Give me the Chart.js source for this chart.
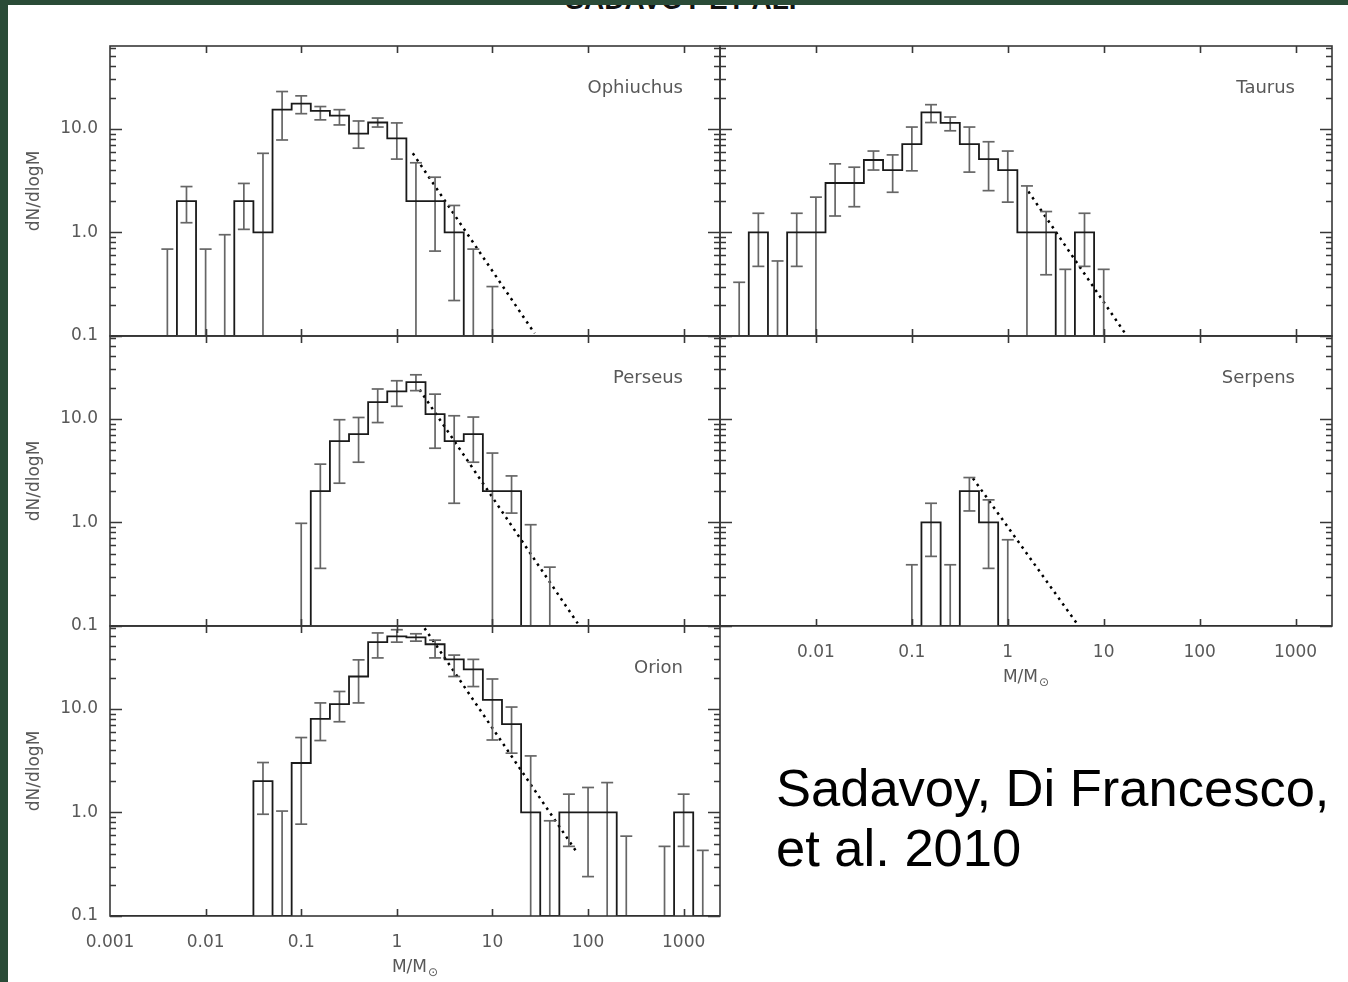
<!DOCTYPE html>
<html>
<head>
<meta charset="utf-8">
<title>Core mass functions</title>
<script src="https://cdn.jsdelivr.net/npm/chart.js@4.4.0/dist/chart.umd.min.js"></script>
<style>
  html, body { margin: 0; padding: 0; }
  body { width: 1348px; height: 982px; position: relative; overflow: hidden; background: #fff; }
  .edge-top { position: absolute; left: 0; top: 0; width: 1348px; height: 5px; background: #2a4b37; z-index: 5; }
  .edge-left { position: absolute; left: 0; top: 0; width: 8px; height: 982px; background: #2a4b37; z-index: 5; }
  .heading { position: absolute; left: 0; top: -16px; width: 1362px; text-align: center;
             font: bold 28px "Liberation Sans", Arial, sans-serif; color: #111; }
  canvas { position: absolute; }
  .credit { position: absolute; left: 776px; top: 758px; font: 52.5px "Liberation Sans", Arial, sans-serif;
            line-height: 60px; color: #000; }
</style>
</head>
<body>
<div class="edge-top"></div>
<div class="edge-left"></div>
<div class="heading">SADAVOY ET AL.</div>

<canvas id="oph" width="704" height="300" style="left:20px;top:40px"></canvas>
<canvas id="tau" width="620" height="300" style="left:716px;top:40px"></canvas>
<canvas id="per" width="704" height="300" style="left:20px;top:330px"></canvas>
<canvas id="ser" width="620" height="356" style="left:716px;top:330px"></canvas>
<canvas id="ori" width="704" height="358" style="left:20px;top:620px"></canvas>

<div class="credit">Sadavoy, Di Francesco,<br>et al. 2010</div>

<script>
// ---- axes ----
const X_MIN = 0.001, X_MAX = 2400;
const Y_MIN = 0.1, Y_MAX = 63;
const X_TICKS = [0.001, 0.01, 0.1, 1, 10, 100, 1000];
const X_LABELS = ['0.001', '0.01', '0.1', '1', '10', '100', '1000'];
const Y_TICKS = [0.1, 1, 10];
const Y_LABELS = ['0.1', '1.0', '10.0'];
const Y_MINOR = [0.2, 0.3, 0.4, 0.5, 0.6, 0.7, 0.8, 0.9, 2, 3, 4, 5, 6, 7, 8, 9, 20, 30, 40, 50, 60];

// bin centres, log10(M/Msun), 0.2 dex wide
const LOG_M = [-3.0, -2.8, -2.6, -2.4, -2.2, -2.0, -1.8, -1.6, -1.4, -1.2, -1.0, -0.8, -0.6, -0.4, -0.2, 0.0,
               0.2, 0.4, 0.6, 0.8, 1.0, 1.2, 1.4, 1.6, 1.8, 2.0, 2.2, 2.4, 2.6, 2.8, 3.0, 3.2, 3.4];

// dN/dlogM per bin; error lo/hi (lo 0 = bar runs to the axis, null = no bar)
const n = null;
const OPH_N  = [0, 0, 0, 0, 2, 0, 0, 2, 1, 15.3, 17.5, 14.9, 13.4, 9.0, 11.5, 8.1, 2, 2, 1, 0, 0, 0, 0, 0, 0, 0, 0, 0, 0, 0, 0, 0, 0];
const OPH_LO = [n, n, n, 0, 1.24, 0, 0, 1.07, 0, 7.8, 14.0, 12.2, 10.9, 6.5, 10.4, 5.1, 0, 0.66, 0.22, 0, 0, n, n, n, n, n, n, n, n, n, n, n, n];
const OPH_HI = [n, n, n, 0.69, 2.77, 0.69, 0.95, 2.97, 5.8, 22.9, 20.8, 16.4, 15.3, 11.9, 12.7, 11.4, 4.7, 3.41, 1.82, 0.69, 0.30, n, n, n, n, n, n, n, n, n, n, n, n];

const TAU_N  = [0, 0, 1, 0, 1, 1, 3.0, 3.0, 5.0, 4.0, 7.1, 14.4, 11.4, 7.1, 5.1, 4.0, 1, 1, 0, 1, 0, 0, 0, 0, 0, 0, 0, 0, 0, 0, 0, 0, 0];
const TAU_LO = [n, 0, 0.47, 0, 0.47, 0, 1.44, 1.77, 4.0, 2.44, 3.93, 11.5, 9.57, 3.82, 2.53, 1.96, 0, 0.39, 0, 0.47, 0, n, n, n, n, n, n, n, n, n, n, n, n];
const TAU_HI = [n, 0.33, 1.53, 0.53, 1.53, 2.19, 4.59, 4.26, 6.1, 5.6, 10.4, 17.1, 13.0, 10.4, 7.5, 6.1, 2.81, 1.59, 0.44, 1.53, 0.44, n, n, n, n, n, n, n, n, n, n, n, n];

const PER_N  = [0, 0, 0, 0, 0, 0, 0, 0, 0, 0, 0, 2.0, 6.1, 7.1, 14.5, 18.4, 22.6, 11.1, 6.1, 7.1, 2.0, 2.0, 0, 0, 0, 0, 0, 0, 0, 0, 0, 0, 0];
const PER_LO = [n, n, n, n, n, n, n, n, n, n, 0, 0.36, 2.39, 3.81, 9.2, 13.2, 18.7, 5.2, 1.53, 3.81, 0, 1.23, 0, 0, n, n, n, n, n, n, n, n, n];
const PER_HI = [n, n, n, n, n, n, n, n, n, n, 0.98, 3.65, 9.8, 10.3, 19.4, 23.3, 26.6, 17.3, 10.7, 10.4, 4.67, 2.81, 0.95, 0.37, n, n, n, n, n, n, n, n, n];

const SER_N  = [0, 0, 0, 0, 0, 0, 0, 0, 0, 0, 0, 1, 0, 2, 1, 0, 0, 0, 0, 0, 0, 0, 0, 0, 0, 0, 0, 0, 0, 0, 0, 0, 0];
const SER_LO = [n, n, n, n, n, n, n, n, n, n, 0, 0.47, 0, 1.29, 0.36, 0, n, n, n, n, n, n, n, n, n, n, n, n, n, n, n, n, n];
const SER_HI = [n, n, n, n, n, n, n, n, n, n, 0.39, 1.53, 0.39, 2.71, 1.65, 0.68, n, n, n, n, n, n, n, n, n, n, n, n, n, n, n, n, n];

const ORI_N  = [0, 0, 0, 0, 0, 0, 0, 0, 2.0, 0, 3.0, 8.0, 11.1, 20.5, 44, 50, 49, 42, 30, 24, 12.2, 7.1, 1.0, 0, 1, 1, 1, 0, 0, 0, 1, 0, 0];
const ORI_LO = [n, n, n, n, n, n, n, n, 0.96, 0, 0.77, 4.94, 7.5, 11.4, 31, 44, 45, 31, 20.5, 16.4, 5.0, 3.73, 0, 0, 0.47, 0.24, 0, 0, n, 0, 0.47, 0, n];
const ORI_HI = [n, n, n, n, n, n, n, n, 3.03, 1.03, 5.28, 11.4, 14.7, 29.7, 54, 58, 53, 46, 33, 30, 19.4, 10.4, 3.51, 0.83, 1.50, 1.74, 1.94, 0.59, n, 0.47, 1.50, 0.43, n];

// Salpeter-like power-law fits (end points, M/Msun and dN/dlogM)
const OPH_FIT_M = [1.47, 27.6], OPH_FIT_N = [5.8, 0.106];
const TAU_FIT_M = [1.64, 17.2], TAU_FIT_N = [2.48, 0.102];
const PER_FIT_M = [1.73, 78],   PER_FIT_N = [19.1, 0.106];
const SER_FIT_M = [0.433, 5.4], SER_FIT_N = [2.67, 0.102];
const ORI_FIT_M = [1.95, 78],   ORI_FIT_N = [60, 0.40];

// ---- styling ----
const FONT = '"DejaVu Sans", sans-serif';
const TEXT = '#585858';
const FRAME = '#383838';
const HIST = '#1a1a1a';
const ERR = '#666';

// frame, inward ticks, region name and mass axis title
const panelDecor = {
  id: 'panelDecor',
  afterDatasetsDraw(chart, args, opts) {
    const { ctx, chartArea: a } = chart;
    const xs = chart.scales.x, ys = chart.scales.y;
    ctx.save();
    ctx.strokeStyle = FRAME;
    ctx.lineWidth = 1.6;
    ctx.strokeRect(a.left, a.top, a.right - a.left, a.bottom - a.top);
    ctx.beginPath();
    X_TICKS.forEach(v => {
      const px = Math.round(xs.getPixelForValue(v)) + 0.5;
      if (px < a.left + 2 || px > a.right - 2) return;
      ctx.moveTo(px, a.top); ctx.lineTo(px, a.top + 7);
      ctx.moveTo(px, a.bottom); ctx.lineTo(px, a.bottom - 7);
    });
    const yTick = (v, len) => {
      const py = Math.round(ys.getPixelForValue(v)) + 0.5;
      ctx.moveTo(a.left, py); ctx.lineTo(a.left + len, py);
      ctx.moveTo(a.right, py); ctx.lineTo(a.right - len, py);
    };
    Y_TICKS.forEach(v => yTick(v, 12));
    Y_MINOR.forEach(v => yTick(v, 6));
    ctx.stroke();

    ctx.fillStyle = TEXT;
    ctx.font = '18px ' + FONT;
    ctx.textAlign = 'right';
    ctx.textBaseline = 'alphabetic';
    ctx.fillText(opts.name, a.right - 37, a.top + 47);

    if (opts.xTitle) {
      ctx.font = '17px ' + FONT;
      const main = 'M/M';
      const w1 = ctx.measureText(main).width;
      ctx.font = '12px ' + FONT;
      const w2 = ctx.measureText('\u2299').width;
      const x0 = (a.left + a.right) / 2 - (w1 + w2 + 1) / 2;
      ctx.textAlign = 'left';
      ctx.font = '17px ' + FONT;
      ctx.fillText(main, x0, a.bottom + 56);
      ctx.font = '12px ' + FONT;
      ctx.fillText('\u2299', x0 + w1 + 1, a.bottom + 60);
    }
    ctx.restore();
  }
};

function histPoints(counts) {
  return LOG_M.map((c, i) => ({ x: Math.pow(10, c), y: counts[i] > 0 ? counts[i] : Y_MIN }));
}

// each bar is a gap, its lower end and its upper end; the list also ends on a gap
function errorPoints(lo, hi) {
  const pts = [];
  LOG_M.forEach((c, i) => {
    if (hi[i] == null) return;
    const m = Math.pow(10, c);
    const low = lo[i] > 0 ? lo[i] : Y_MIN;
    pts.push({ x: m, y: null });
    pts.push({ x: m, y: low, cap: lo[i] > 0 });
    pts.push({ x: m, y: hi[i], cap: true });
  });
  if (pts.length) pts.push({ x: pts[pts.length - 1].x, y: null });
  return pts;
}

function fitPoints(ms, ns) {
  return ms.map((m, i) => ({ x: m, y: ns[i] }));
}

function makePanel(id, cfg) {
  const tickFont = { family: FONT, size: 17 };
  return new Chart(document.getElementById(id), {
    type: 'line',
    data: {
      datasets: [
        {
          data: histPoints(cfg.counts),
          stepped: 'middle',
          borderColor: HIST,
          borderWidth: 1.8,
          pointRadius: 0,
          fill: false
        },
        {
          data: errorPoints(cfg.lo, cfg.hi),
          borderColor: ERR,
          borderWidth: 1.7,
          spanGaps: false,
          pointStyle: 'line',
          pointRadius: ctx => (ctx.raw && ctx.raw.cap ? 6 : 0),
          pointBorderColor: ERR,
          pointBorderWidth: 1.7,
          fill: false
        },
        {
          data: fitPoints(cfg.fitM, cfg.fitN),
          borderColor: '#000',
          borderWidth: 2.5,
          borderDash: [2.5, 4.5],
          pointRadius: 0,
          fill: false
        }
      ]
    },
    options: {
      responsive: false,
      animation: false,
      events: [],
      layout: { padding: cfg.padding },
      plugins: {
        legend: { display: false },
        tooltip: { enabled: false },
        panelDecor: { name: cfg.name, xTitle: cfg.showX }
      },
      scales: {
        x: {
          type: 'logarithmic',
          min: X_MIN,
          max: X_MAX,
          display: cfg.showX,
          afterBuildTicks: s => { s.ticks = X_TICKS.map(v => ({ value: v })); },
          afterFit: s => {
            if (cfg.showX) s.height = cfg.xHeight;
            s.paddingLeft = 0;
            s.paddingRight = 0;
          },
          grid: { display: false, drawTicks: false },
          border: { display: false },
          ticks: {
            autoSkip: false,
            maxRotation: 0,
            padding: 16,
            color: TEXT,
            font: tickFont,
            callback: (v, i) => (cfg.skipFirstX && i === 0 ? '' : X_LABELS[i])
          }
        },
        y: {
          type: 'logarithmic',
          min: Y_MIN,
          max: Y_MAX,
          display: cfg.showY,
          afterBuildTicks: s => { s.ticks = Y_TICKS.map(v => ({ value: v })); },
          afterFit: s => {
            if (cfg.showY) s.width = 90;
            s.paddingTop = 0;
            s.paddingBottom = 0;
          },
          grid: { display: false, drawTicks: false },
          border: { display: false },
          ticks: {
            autoSkip: false,
            padding: 12,
            color: TEXT,
            font: tickFont,
            callback: (v, i) => Y_LABELS[i]
          },
          title: {
            display: true,
            text: 'dN/dlogM',
            color: TEXT,
            font: { family: FONT, size: 17 },
            padding: { top: 4, bottom: 0 }
          }
        }
      }
    },
    plugins: [panelDecor]
  });
}

makePanel('oph', {
  name: 'Ophiuchus', counts: OPH_N, lo: OPH_LO, hi: OPH_HI, fitM: OPH_FIT_M, fitN: OPH_FIT_N,
  showX: false, showY: true, padding: { top: 6, right: 4, bottom: 4, left: 0 }
});
makePanel('tau', {
  name: 'Taurus', counts: TAU_N, lo: TAU_LO, hi: TAU_HI, fitM: TAU_FIT_M, fitN: TAU_FIT_N,
  showX: false, showY: false, padding: { top: 6, right: 4, bottom: 4, left: 4 }
});
makePanel('per', {
  name: 'Perseus', counts: PER_N, lo: PER_LO, hi: PER_HI, fitM: PER_FIT_M, fitN: PER_FIT_N,
  showX: false, showY: true, padding: { top: 6, right: 4, bottom: 4, left: 0 }
});
makePanel('ser', {
  name: 'Serpens', counts: SER_N, lo: SER_LO, hi: SER_HI, fitM: SER_FIT_M, fitN: SER_FIT_N,
  showX: true, showY: false, xHeight: 60, skipFirstX: true, padding: { top: 6, right: 4, bottom: 0, left: 4 }
});
makePanel('ori', {
  name: 'Orion', counts: ORI_N, lo: ORI_LO, hi: ORI_HI, fitM: ORI_FIT_M, fitN: ORI_FIT_N,
  showX: true, showY: true, xHeight: 62, padding: { top: 6, right: 4, bottom: 0, left: 0 }
});
</script>
</body>
</html>
